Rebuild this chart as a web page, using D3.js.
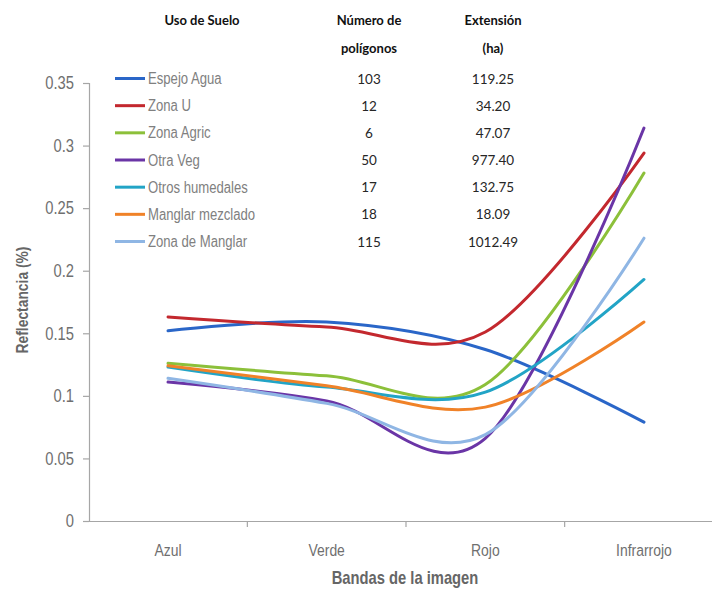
<!DOCTYPE html>
<html>
<head>
<meta charset="utf-8">
<script src="https://cdn.jsdelivr.net/npm/d3@7/dist/d3.min.js"></script>
<style>
  html, body { margin: 0; padding: 0; background: #fff; }
  svg { display: block; }
</style>
</head>
<body>
<script>
// Spectral reflectance by land-use class across four image bands
const bands = ["Azul", "Verde", "Rojo", "Infrarrojo"];
const classes = ["Espejo Agua", "Zona U", "Zona Agric", "Otra Veg", "Otros humedales", "Manglar mezclado", "Zona de Manglar"];
const polygonCounts = ["103", "12", "6", "50", "17", "18", "115"];
const areaHa = ["119.25", "34.20", "47.07", "977.40", "132.75", "18.09", "1012.49"];
const colors = ["#2a66c8", "#c3282e", "#8cc03a", "#6a35a6", "#22a4c6", "#f08228", "#8fb6e4"];

const espejoAgua      = [0.152, 0.159, 0.137, 0.079];
const zonaU           = [0.163, 0.155, 0.151, 0.294];
const zonaAgric       = [0.126, 0.116, 0.109, 0.278];
const otraVeg         = [0.111, 0.096, 0.066, 0.314];
const otrosHumedales  = [0.123, 0.107, 0.103, 0.193];
const manglarMezclado = [0.124, 0.108, 0.091, 0.159];
const zonaManglar     = [0.114, 0.094, 0.069, 0.226];
const seriesValues = [espejoAgua, zonaU, zonaAgric, otraVeg, otrosHumedales, manglarMezclado, zonaManglar];

const yTicks = [0, 0.05, 0.1, 0.15, 0.2, 0.25, 0.3, 0.35];
const yTickLabels = ["0", "0.05", "0.1", "0.15", "0.2", "0.25", "0.3", "0.35"];

const W = 712, H = 594;
const sans = "'Liberation Sans', Arial, sans-serif";
const SQ = 0.82; // horizontal squeeze giving a condensed face
const tableFont = "Lato, Carlito, 'Open Sans', sans-serif";
const axisColor = "#a6a6a6";
const labelColor = "#6f6f6f";

const svg = d3.select("body").append("svg").attr("width", W).attr("height", H);

const y = d3.scaleLinear().domain([0, 0.35]).range([521, 83]);
const x = d3.scaleBand().domain(bands).range([88.7, 723.3]);
const xc = b => x(b) + x.bandwidth() / 2;

// Y axis
const yAxis = d3.axisLeft(y).tickValues(yTicks).tickSize(6)
  .tickFormat((d, i) => yTickLabels[i]);
const gy = svg.append("g").attr("transform", "translate(89,0)").call(yAxis);
gy.select(".domain").attr("stroke", axisColor).attr("stroke-width", 1.2);
gy.selectAll(".tick line").attr("stroke", axisColor).attr("stroke-width", 1.2);
gy.selectAll(".tick text").attr("x", -15 / SQ).attr("transform", `scale(${SQ},1)`)
  .attr("fill", labelColor).style("font-family", sans).style("font-size", "18px");

// X axis: category labels centred in bands, ticks on band boundaries
const xAxis = d3.axisBottom(x).tickSize(0).tickPadding(22);
const gx = svg.append("g").attr("transform", "translate(0,521.5)").call(xAxis);
gx.select(".domain").remove();
gx.selectAll(".tick text").attr("transform", `scale(${SQ},1)`)
  .attr("fill", labelColor).style("font-family", sans).style("font-size", "17px");
svg.append("line").attr("x1", 89).attr("x2", W).attr("y1", 521.5).attr("y2", 521.5)
  .attr("stroke", axisColor).attr("stroke-width", 1.2);
bands.slice(1).forEach(b => {
  const xb = x(b);
  svg.append("line").attr("x1", xb).attr("x2", xb).attr("y1", 521.5).attr("y2", 527)
    .attr("stroke", axisColor).attr("stroke-width", 1.2);
});

// Axis titles
svg.append("text").attr("x", 405 / SQ).attr("y", 584).attr("text-anchor", "middle")
  .attr("transform", `scale(${SQ},1)`)
  .attr("fill", "#666").style("font-family", sans).style("font-size", "18px").style("font-weight", "bold")
  .text("Bandas de la imagen");
svg.append("text").attr("transform", `translate(28,300) rotate(-90) scale(0.84,1)`).attr("text-anchor", "middle")
  .attr("fill", "#666").style("font-family", sans).style("font-size", "16.5px").style("font-weight", "bold")
  .text("Reflectancia (%)");

// Series lines (smoothed)
const line = d3.line().x((d, i) => xc(bands[i])).y(d => y(d)).curve(d3.curveCardinal.tension(0));
svg.append("g").selectAll("path").data(seriesValues).join("path")
  .attr("d", d => line(d)).attr("fill", "none")
  .attr("stroke", (d, i) => colors[i]).attr("stroke-width", 3).attr("stroke-linecap", "round");

// Legend table
const hdr = svg.append("g").style("font-family", tableFont).style("font-weight", "bold").style("font-size", "13px").attr("fill", "#111");
hdr.append("text").attr("x", 202).attr("y", 25).attr("text-anchor", "middle").text("Uso de Suelo");
hdr.append("text").attr("x", 369).attr("y", 25).attr("text-anchor", "middle").text("Número de");
hdr.append("text").attr("x", 369).attr("y", 53).attr("text-anchor", "middle").text("polígonos");
hdr.append("text").attr("x", 493).attr("y", 25).attr("text-anchor", "middle").text("Extensión");
hdr.append("text").attr("x", 493).attr("y", 53).attr("text-anchor", "middle").text("(ha)");

const rowY = d3.scalePoint().domain(classes).range([78.5, 241.5]);
const rows = svg.append("g").selectAll("g").data(classes).join("g")
  .attr("transform", d => `translate(0,${rowY(d)})`);
rows.append("line").attr("x1", 115).attr("x2", 145).attr("y1", 0).attr("y2", 0)
  .attr("stroke", (d, i) => colors[i]).attr("stroke-width", 3);
rows.append("text").attr("x", 148 / SQ).attr("y", 5.5).attr("transform", `scale(${SQ},1)`).attr("fill", "#808080")
  .style("font-family", sans).style("font-size", "16px").text(d => d);
rows.append("text").attr("x", 369).attr("y", 5).attr("text-anchor", "middle").attr("fill", "#262626")
  .style("font-family", tableFont).style("font-size", "13.5px").text((d, i) => polygonCounts[i]);
rows.append("text").attr("x", 493).attr("y", 5).attr("text-anchor", "middle").attr("fill", "#262626")
  .style("font-family", tableFont).style("font-size", "13.5px").text((d, i) => areaHa[i]);
</script>
</body>
</html>
